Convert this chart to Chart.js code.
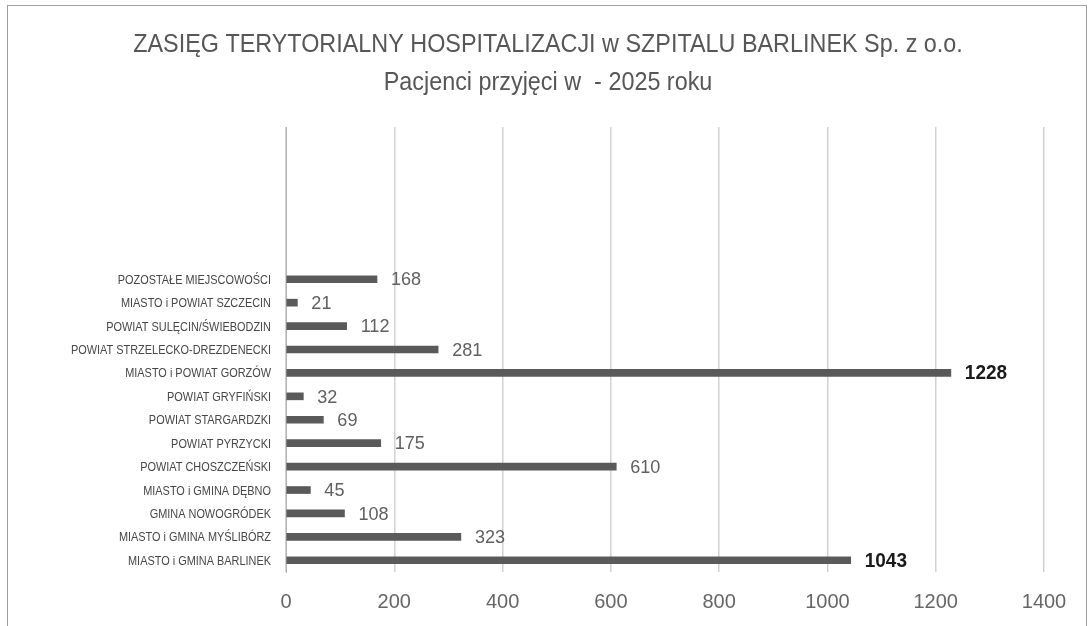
<!DOCTYPE html>
<html><head><meta charset="utf-8">
<script src="https://cdn.jsdelivr.net/npm/chart.js@4"></script>
<style>html,body{margin:0;padding:0;background:#fff}#wrap{width:1088px;height:626px;position:relative}</style>
</head><body><div id="wrap"><canvas id="c" width="1088" height="626"></canvas></div>
<script>
const titleLines = ["ZASIĘG TERYTORIALNY HOSPITALIZACJI w SZPITALU BARLINEK Sp. z o.o.", "Pacjenci przyjęci w  - 2025 roku"];
const categories = ["", "", "", "", "", "",
  "POZOSTAŁE MIEJSCOWOŚCI", "MIASTO i POWIAT SZCZECIN", "POWIAT SULĘCIN/ŚWIEBODZIN",
  "POWIAT STRZELECKO-DREZDENECKI", "MIASTO i POWIAT GORZÓW", "POWIAT GRYFIŃSKI",
  "POWIAT STARGARDZKI", "POWIAT PYRZYCKI", "POWIAT CHOSZCZEŃSKI", "MIASTO i GMINA DĘBNO",
  "GMINA NOWOGRÓDEK", "MIASTO i GMINA MYŚLIBÓRZ", "MIASTO i GMINA BARLINEK"];
const patients = [null, null, null, null, null, null,
  168, 21, 112, 281, 1228, 32, 69, 175, 610, 45, 108, 323, 1043];
const xTicks = [0, 200, 400, 600, 800, 1000, 1200, 1400];

const FONT = '"Liberation Sans", Arial, sans-serif';

// draws text horizontally condensed (Calibri-like look)
function condText(ctx, text, x, y, sx, align) {
  ctx.save();
  ctx.translate(x, y);
  ctx.scale(sx, 1);
  ctx.textAlign = align;
  ctx.fillText(text, 0, 0);
  ctx.restore();
}

const textPlugin = {
  id: 'texts',
  afterDraw(chart) {
    const ctx = chart.ctx;
    ctx.save();
    ctx.textBaseline = 'middle';
    // title
    ctx.fillStyle = '#575757';
    ctx.font = '25px ' + FONT;
    condText(ctx, titleLines[0], 548, 45, 0.935, 'center');
    condText(ctx, titleLines[1], 548, 83, 0.935, 'center');
    // category labels
    const ys = chart.scales.y;
    ctx.fillStyle = '#474747';
    ctx.font = '13px ' + FONT;
    categories.forEach((c, i) => {
      if (!c) return;
      condText(ctx, c, 271, ys.getPixelForTick(i) + 1, 0.84, 'right');
    });
    // value labels
    const meta = chart.getDatasetMeta(0);
    meta.data.forEach((bar, i) => {
      const v = patients[i];
      if (v === null) return;
      const big = v >= 1000;
      ctx.font = (big ? 'bold 20px ' : '19px ') + FONT;
      ctx.fillStyle = big ? '#1a1a1a' : '#606060';
      condText(ctx, String(v), bar.x + 14, bar.y + 1, 0.95, 'left');
    });
    ctx.restore();
  }
};
const framePlugin = {
  id: 'frame',
  beforeDraw(chart) {
    const ctx = chart.ctx;
    ctx.save();
    ctx.strokeStyle = '#a0a0a0';
    ctx.lineWidth = 1;
    ctx.strokeRect(7.5, 5.5, 1079, 700);
    ctx.restore();
  }
};

new Chart(document.getElementById('c'), {
  type: 'bar',
  data: {
    labels: categories,
    datasets: [{ data: patients, backgroundColor: '#5a5a5a', barThickness: 7, borderWidth: 0 }]
  },
  options: {
    indexAxis: 'y',
    responsive: false,
    animation: false,
    layout: { padding: { left: 0, right: 44, top: 127, bottom: 0 } },
    plugins: { legend: { display: false }, tooltip: { enabled: false }, title: { display: false } },
    scales: {
      x: {
        min: 0, max: 1400,
        afterBuildTicks(s) { s.ticks = xTicks.map(v => ({ value: v })); },
        grid: { color: '#d2d2d2', lineWidth: 1.5, drawTicks: false },
        border: { display: false },
        ticks: { color: '#666666', font: { family: FONT, size: 20 }, padding: 18, callback: v => String(v) },
        afterFit(s) { s.height = 54; }
      },
      y: {
        grid: { display: false },
        border: { display: true, color: '#b5b5b5', width: 1 },
        ticks: { display: false },
        afterFit(s) { s.width = 286; }
      }
    }
  },
  plugins: [textPlugin, framePlugin]
});
</script></body></html>
